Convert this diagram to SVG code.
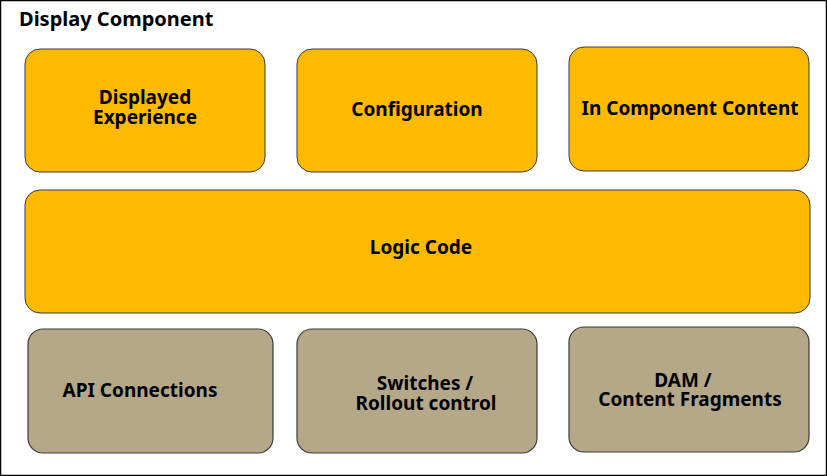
<svg xmlns="http://www.w3.org/2000/svg" width="827" height="476" viewBox="0 0 827 476">
<style>
.o{fill:#FFBA00;stroke:#3a3a3a;stroke-width:1}
.t{fill:#B5A888;stroke:#3a3a3a;stroke-width:1.2}
text{font-family:"Noto Sans",Lato,sans-serif;font-weight:700;font-size:19px;fill:#000;text-anchor:middle}
</style>
<rect x="0.5" y="0.5" width="826" height="475" fill="#fff" stroke="#000" stroke-width="1.5"/>
<text x="19" y="26" style="text-anchor:start;font-size:20px">Display Component</text>
<g id="displayed"><rect class="o" x="25" y="49" width="240" height="123" rx="15"/><text x="145" y="104">Displayed<tspan x="145" dy="20">Experience</tspan></text></g>
<g id="configuration"><rect class="o" x="297" y="49" width="240" height="123" rx="15"/><text x="417" y="116">Configuration</text></g>
<g id="incomponent"><rect class="o" x="569" y="47" width="240" height="124" rx="15"/><text x="690" y="115">In Component Content</text></g>
<g id="logic"><rect class="o" x="25" y="190" width="785" height="123" rx="15"/><text x="421" y="254">Logic Code</text></g>
<g id="api"><rect class="t" x="28" y="329" width="245" height="124" rx="15"/><text x="140" y="397">API Connections</text></g>
<g id="switches"><rect class="t" x="297" y="329" width="240" height="124" rx="15"/><text x="425" y="390">Switches /<tspan x="426" dy="20">Rollout control</tspan></text></g>
<g id="dam"><rect class="t" x="569" y="327" width="240" height="125" rx="15"/><text x="683" y="387">DAM /<tspan x="690" dy="19">Content Fragments</tspan></text></g>
<g id="connectors"/>
</svg>
